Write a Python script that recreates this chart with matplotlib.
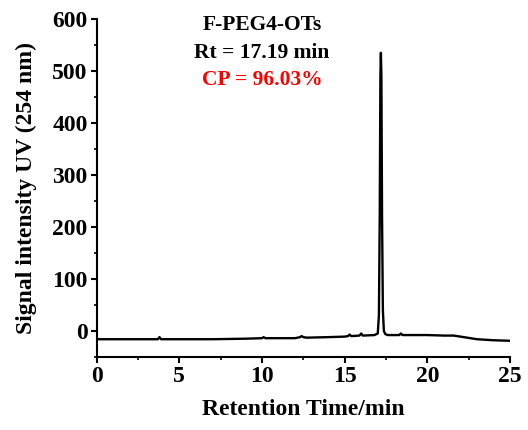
import matplotlib
matplotlib.use('Agg')
import matplotlib.pyplot as plt
from matplotlib.ticker import MultipleLocator

# chromatogram points (time in min, signal)
time = [0, 2, 3.7, 3.8, 3.9, 5, 7, 9, 10.0, 10.1, 10.2, 12, 12.3, 12.4, 12.5, 12.7,
        14, 15, 15.2, 15.3, 15.4, 15.9, 16.0, 16.1, 16.8, 17.0, 17.07, 17.12, 17.16,
        17.19, 17.22, 17.26, 17.31, 17.37, 17.45, 17.6, 18.3, 18.4, 18.5, 20, 21, 21.6,
        22, 23, 24, 25]
signal = [-16, -16, -16, -12, -16, -16, -16, -15, -14, -12, -14, -14, -12, -10, -12, -13,
          -12, -11, -10, -7, -10, -9, -5, -9, -8, -5, 30, 220, 490,
          535, 490, 220, 40, 0, -6, -8, -8, -5, -8, -8, -9, -9,
          -11, -16, -18, -19]

sample = 'F-PEG4-OTs'
rt_text = 'Rt = 17.19 min'
cp_text = 'CP = 96.03%'

plt.rcParams['font.family'] = 'Liberation Serif'
plt.rcParams['font.weight'] = 'bold'

fig = plt.figure(figsize=(5.28, 4.3), dpi=100)
ax = fig.add_axes([0.183, 0.170, 0.783, 0.786])
ax.plot(time, signal, color='black', lw=1.7)

ax.set_xlim(0, 25)
ax.set_ylim(-50, 600)
ax.xaxis.set_major_locator(MultipleLocator(5))
ax.xaxis.set_minor_locator(MultipleLocator(2.5))
ax.yaxis.set_major_locator(MultipleLocator(100))
ax.yaxis.set_minor_locator(MultipleLocator(50))
for s in ['top', 'right']:
    ax.spines[s].set_visible(False)
for s in ['left', 'bottom']:
    ax.spines[s].set_linewidth(1.5)
ax.tick_params(which='major', direction='out', length=4.5, width=1.5, labelsize=17, pad=2)
ax.tick_params(which='minor', direction='out', length=2.5, width=1.2)
for lab in ax.get_xticklabels() + ax.get_yticklabels():
    lab.set_fontweight('bold')

ax.set_xlabel('Retention Time/min', fontsize=17, fontweight='bold', labelpad=9)
ax.set_ylabel('Signal intensity UV (254 nm)', fontsize=17, fontweight='bold', labelpad=11)

ax.text(10, 589, sample, ha='center', va='center', fontsize=15.5, fontweight='bold')
ax.text(10, 535, rt_text, ha='center', va='center', fontsize=15.5, fontweight='bold')
ax.text(10, 483, cp_text, ha='center', va='center', fontsize=15.5, fontweight='bold', color='#ff0000')

fig.savefig('out.png', dpi=100)
